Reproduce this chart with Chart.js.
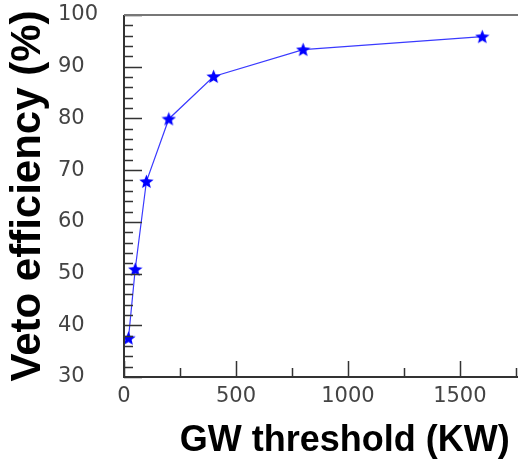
<!DOCTYPE html>
<html>
<head>
<meta charset="utf-8">
<script src="https://cdn.jsdelivr.net/npm/chart.js@4"></script>
<style>
  body { margin: 0; background: #fff; }
  #wrap { width: 518px; height: 459px; }
</style>
</head>
<body>
<div id="wrap"><canvas id="veto" width="518" height="459"></canvas></div>
<script>
// GW threshold (KW) and veto efficiency (%)
const thresholds = [20, 50, 100, 200, 400, 800, 1600];
const efficiency = [37.5, 50.8, 67.8, 79.9, 88.1, 93.3, 95.8];

const xTicks = [0, 500, 1000, 1500];
const yTicks = [30, 40, 50, 60, 70, 80, 90, 100];
const xMinorStep = 250;
const yMinorStep = 2;

const tickFont = '21px "DejaVu Sans"';

// filled five point star used as marker
function makeStar(size, color) {
  const c = document.createElement('canvas');
  c.width = size; c.height = size;
  const g = c.getContext('2d');
  const r1 = size / 2, r2 = size / 4.6;
  g.translate(size / 2, size / 2 + 0.5);
  g.beginPath();
  for (let i = 0; i < 10; i++) {
    const r = i % 2 ? r2 : r1;
    const a = -Math.PI / 2 + i * Math.PI / 5;
    g.lineTo(r * Math.cos(a), r * Math.sin(a));
  }
  g.closePath();
  g.fillStyle = color;
  g.fill();
  return c;
}
const star = makeStar(15, '#0000ff');

// frame, inward ticks and y labels; the frame runs on to the canvas edge
const frame = {
  id: 'frame',
  afterDraw(chart) {
    const ctx = chart.ctx;
    const a = chart.chartArea;
    const edge = chart.width;
    const xs = chart.scales.x, ys = chart.scales.y;
    ctx.save();
    ctx.strokeStyle = '#333';
    ctx.lineWidth = 1.5;
    ctx.beginPath();
    for (let v = ys.min; v <= ys.max; v += yMinorStep) {
      const y = Math.round(ys.getPixelForValue(v)) + 0.5;
      const len = yTicks.includes(v) ? 18 : 9;
      ctx.moveTo(a.left, y);
      ctx.lineTo(a.left + len, y);
    }
    for (let v = 0; xs.getPixelForValue(v) < edge; v += xMinorStep) {
      const x = Math.round(xs.getPixelForValue(v)) + 0.5;
      const len = xTicks.includes(v) ? 16 : 9;
      ctx.moveTo(x, a.bottom);
      ctx.lineTo(x, a.bottom - len);
    }
    ctx.stroke();

    ctx.lineWidth = 2;
    ctx.beginPath();
    ctx.moveTo(a.left, a.top);
    ctx.lineTo(a.left, a.bottom);
    ctx.lineTo(edge, a.bottom);
    ctx.stroke();
    ctx.strokeStyle = '#777';
    ctx.beginPath();
    ctx.moveTo(a.left, a.top);
    ctx.lineTo(edge, a.top);
    ctx.stroke();

    ctx.fillStyle = '#444';
    ctx.font = tickFont;
    ctx.textAlign = 'left';
    ctx.textBaseline = 'middle';
    yTicks.forEach(v => ctx.fillText(String(v), 58, ys.getPixelForValue(v)));
    ctx.restore();
  }
};

new Chart(document.getElementById('veto'), {
  type: 'scatter',
  data: {
    datasets: [{
      data: thresholds.map((t, i) => ({ x: t, y: efficiency[i] })),
      showLine: true,
      borderColor: '#3a3aff',
      borderWidth: 1.2,
      pointStyle: star,
      pointRadius: 7,
      pointHoverRadius: 7,
    }],
  },
  options: {
    responsive: false,
    animation: false,
    layout: { padding: { top: 15, right: 0, left: 0, bottom: 0 } },
    plugins: { legend: { display: false }, tooltip: { enabled: false } },
    scales: {
      x: {
        type: 'linear',
        min: 0,
        max: 1723,
        afterBuildTicks: s => { s.ticks = xTicks.map(v => ({ value: v })); },
        afterFit: s => { s.height = 82; },
        grid: { display: false, drawTicks: false },
        border: { display: false },
        ticks: {
          padding: 7,
          color: '#444',
          font: { family: 'DejaVu Sans', size: 21 },
          maxRotation: 0,
          callback: v => String(v),
        },
        title: {
          display: true,
          text: 'GW threshold (KW)',
          align: 'end',
          color: '#000',
          font: { family: 'Liberation Sans', size: 36, weight: 'bold', lineHeight: 1 },
          padding: { top: 10, bottom: 0 },
        },
      },
      y: {
        min: 30,
        max: 100,
        afterBuildTicks: s => { s.ticks = yTicks.map(v => ({ value: v })); },
        afterFit: s => { s.width = 124; },
        grid: { display: false, drawTicks: false },
        border: { display: false },
        ticks: { display: false },
        title: {
          display: true,
          text: 'Veto efficiency (%)',
          color: '#000',
          font: { family: 'Liberation Sans', size: 42, weight: 'bold', lineHeight: 1 },
          padding: { top: 7, bottom: 0 },
        },
      },
    },
  },
  plugins: [frame],
});
</script>
</body>
</html>
